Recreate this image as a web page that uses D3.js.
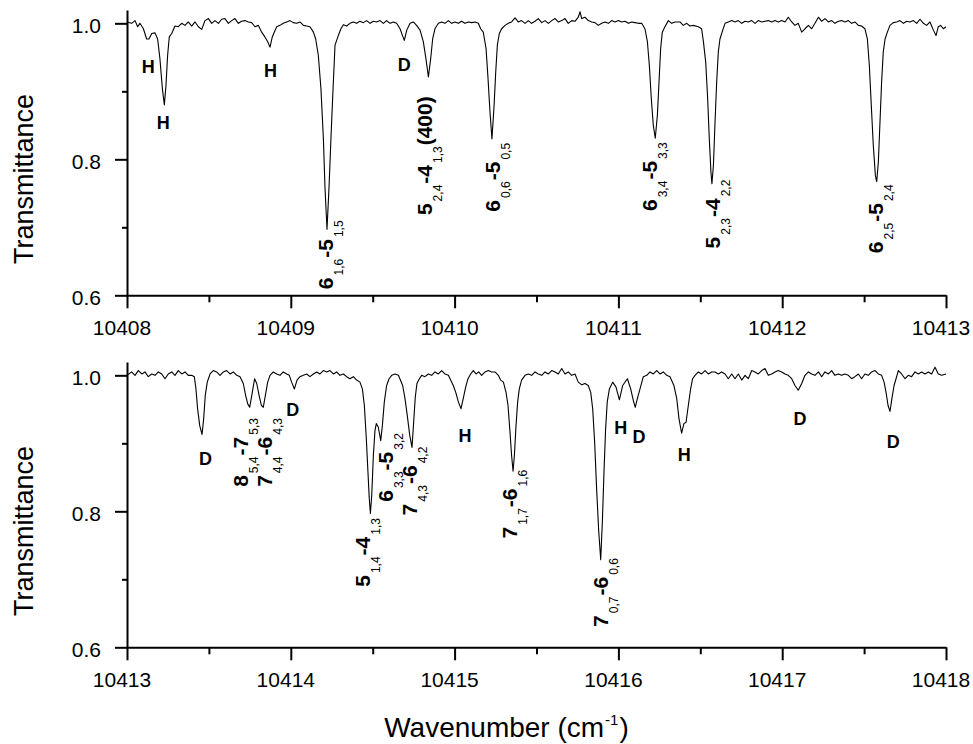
<!DOCTYPE html>
<html><head><meta charset="utf-8">
<script src="https://cdn.jsdelivr.net/npm/d3@7"></script>
<style>
body{margin:0;background:#fff}
svg{display:block}
text{font-family:"Liberation Sans",Arial,Helvetica,sans-serif;fill:#000}
</style>
</head><body><svg id="chart" width="973" height="744"></svg>
<script>
// ---- data (wavenumber cm-1, transmittance) ----
const topSpectrum = [[10408.000,1.002],[10408.028,1.000],[10408.049,1.004],[10408.065,0.995],[10408.079,1.000],[10408.100,0.992],[10408.120,0.977],[10408.134,0.977],[10408.151,0.985],[10408.171,0.986],[10408.187,0.977],[10408.201,0.948],[10408.216,0.904],[10408.228,0.880],[10408.238,0.909],[10408.248,0.953],[10408.258,0.980],[10408.273,0.985],[10408.293,0.996],[10408.313,0.995],[10408.334,1.000],[10408.354,0.997],[10408.374,1.002],[10408.395,0.996],[10408.415,1.002],[10408.436,0.995],[10408.456,0.991],[10408.476,1.004],[10408.497,1.007],[10408.517,1.000],[10408.537,1.004],[10408.558,1.000],[10408.578,1.006],[10408.598,1.007],[10408.619,1.000],[10408.639,1.004],[10408.659,1.007],[10408.680,1.000],[10408.700,1.003],[10408.720,1.004],[10408.741,1.002],[10408.761,1.001],[10408.781,0.995],[10408.802,0.997],[10408.822,0.987],[10408.842,0.980],[10408.859,0.973],[10408.873,0.965],[10408.887,0.980],[10408.899,0.987],[10408.914,0.995],[10408.934,0.997],[10408.954,1.000],[10408.975,1.002],[10408.995,1.004],[10409.015,1.001],[10409.036,1.000],[10409.056,1.002],[10409.077,0.997],[10409.097,0.996],[10409.117,0.995],[10409.138,0.987],[10409.152,0.977],[10409.168,0.953],[10409.184,0.904],[10409.199,0.830],[10409.209,0.757],[10409.221,0.697],[10409.233,0.757],[10409.245,0.830],[10409.258,0.904],[10409.270,0.968],[10409.290,0.982],[10409.306,0.992],[10409.321,0.998],[10409.341,0.996],[10409.361,1.000],[10409.382,1.002],[10409.402,1.000],[10409.422,1.003],[10409.443,1.001],[10409.463,1.004],[10409.484,1.000],[10409.504,1.003],[10409.524,1.002],[10409.545,1.004],[10409.565,1.000],[10409.585,1.004],[10409.606,1.000],[10409.626,1.002],[10409.646,1.000],[10409.667,0.992],[10409.682,0.982],[10409.693,0.975],[10409.708,0.990],[10409.728,1.000],[10409.748,1.002],[10409.768,0.997],[10409.789,0.990],[10409.809,0.973],[10409.825,0.948],[10409.840,0.921],[10409.854,0.948],[10409.866,0.977],[10409.880,0.992],[10409.901,1.000],[10409.921,1.002],[10409.941,1.000],[10409.962,1.004],[10409.982,1.000],[10410.002,1.002],[10410.023,1.000],[10410.043,1.003],[10410.063,1.000],[10410.084,1.002],[10410.104,1.001],[10410.125,1.002],[10410.145,1.000],[10410.159,0.992],[10410.175,0.987],[10410.192,0.963],[10410.204,0.919],[10410.216,0.870],[10410.228,0.830],[10410.241,0.879],[10410.251,0.928],[10410.261,0.968],[10410.273,0.985],[10410.287,0.992],[10410.308,0.997],[10410.328,1.000],[10410.348,1.002],[10410.369,1.008],[10410.389,1.002],[10410.409,1.004],[10410.430,1.000],[10410.450,1.004],[10410.470,1.000],[10410.491,1.003],[10410.511,1.007],[10410.532,1.001],[10410.552,1.004],[10410.572,1.000],[10410.593,1.004],[10410.613,1.007],[10410.633,1.002],[10410.654,1.004],[10410.674,1.007],[10410.694,1.000],[10410.715,1.004],[10410.735,1.003],[10410.755,1.009],[10410.766,1.017],[10410.776,1.007],[10410.796,1.009],[10410.816,1.004],[10410.837,1.002],[10410.857,1.001],[10410.877,0.997],[10410.898,1.000],[10410.918,1.002],[10410.939,1.000],[10410.959,1.004],[10410.979,1.002],[10411.000,1.004],[10411.020,1.002],[10411.040,1.003],[10411.061,1.000],[10411.081,1.002],[10411.101,1.001],[10411.122,1.000],[10411.142,1.000],[10411.162,0.992],[10411.177,0.973],[10411.189,0.938],[10411.201,0.889],[10411.213,0.850],[10411.225,0.831],[10411.238,0.865],[10411.248,0.914],[10411.258,0.963],[10411.268,0.987],[10411.284,0.995],[10411.305,1.004],[10411.325,1.000],[10411.346,1.002],[10411.376,1.002],[10411.396,0.997],[10411.417,1.000],[10411.437,0.996],[10411.457,0.997],[10411.488,0.995],[10411.508,0.992],[10411.519,0.973],[10411.533,0.943],[10411.545,0.889],[10411.555,0.830],[10411.565,0.781],[10411.571,0.764],[10411.580,0.791],[10411.590,0.855],[10411.600,0.914],[10411.610,0.958],[10411.620,0.977],[10411.637,0.990],[10411.651,1.000],[10411.671,1.002],[10411.692,1.004],[10411.712,1.002],[10411.732,1.004],[10411.753,1.000],[10411.773,1.003],[10411.793,1.002],[10411.814,1.004],[10411.834,1.000],[10411.854,1.004],[10411.875,1.002],[10411.895,1.003],[10411.915,1.004],[10411.936,1.002],[10411.956,1.004],[10411.976,1.002],[10411.997,1.004],[10412.017,1.002],[10412.037,1.009],[10412.058,1.002],[10412.078,0.997],[10412.098,1.000],[10412.119,0.987],[10412.139,0.992],[10412.160,0.997],[10412.180,0.992],[10412.200,1.000],[10412.221,1.009],[10412.241,1.003],[10412.261,1.007],[10412.282,1.002],[10412.302,1.004],[10412.322,1.000],[10412.343,1.003],[10412.363,1.004],[10412.383,1.002],[10412.404,1.004],[10412.424,1.000],[10412.444,1.002],[10412.465,0.997],[10412.485,0.996],[10412.505,0.992],[10412.520,0.977],[10412.532,0.938],[10412.544,0.879],[10412.556,0.821],[10412.569,0.776],[10412.577,0.767],[10412.587,0.796],[10412.597,0.855],[10412.607,0.914],[10412.617,0.958],[10412.628,0.977],[10412.642,0.987],[10412.658,0.997],[10412.678,1.001],[10412.699,1.002],[10412.719,1.004],[10412.740,1.000],[10412.760,1.003],[10412.780,1.002],[10412.801,1.004],[10412.821,1.000],[10412.841,1.006],[10412.862,1.000],[10412.882,0.997],[10412.902,1.002],[10412.923,0.990],[10412.939,0.982],[10412.953,0.995],[10412.967,0.997],[10412.984,0.992],[10413.000,0.995]];

const bottomSpectrum = [[10413.000,1.000],[10413.028,1.005],[10413.049,1.000],[10413.069,1.007],[10413.090,1.002],[10413.110,1.005],[10413.130,0.998],[10413.151,1.002],[10413.171,1.000],[10413.191,1.005],[10413.212,1.002],[10413.232,0.995],[10413.252,1.002],[10413.273,1.005],[10413.293,1.000],[10413.313,1.007],[10413.334,1.002],[10413.354,1.005],[10413.374,1.000],[10413.395,1.000],[10413.411,0.998],[10413.421,0.980],[10413.431,0.951],[10413.444,0.926],[10413.458,0.913],[10413.468,0.936],[10413.478,0.971],[10413.490,0.990],[10413.507,1.002],[10413.527,1.007],[10413.547,1.005],[10413.568,1.000],[10413.588,1.005],[10413.608,1.007],[10413.629,1.002],[10413.649,1.005],[10413.670,1.000],[10413.690,0.998],[10413.710,0.988],[10413.724,0.971],[10413.737,0.958],[10413.749,0.953],[10413.765,0.975],[10413.779,0.995],[10413.792,0.988],[10413.806,0.971],[10413.820,0.956],[10413.832,0.953],[10413.845,0.971],[10413.859,0.990],[10413.873,1.000],[10413.893,1.005],[10413.914,1.002],[10413.934,1.000],[10413.954,1.005],[10413.975,1.002],[10413.991,1.000],[10414.005,0.990],[10414.022,0.980],[10414.038,0.993],[10414.056,0.998],[10414.077,1.000],[10414.097,1.002],[10414.117,0.998],[10414.138,1.002],[10414.158,1.005],[10414.178,1.002],[10414.199,1.007],[10414.219,1.005],[10414.239,1.007],[10414.260,1.002],[10414.280,1.005],[10414.300,1.000],[10414.321,1.002],[10414.341,0.998],[10414.361,0.995],[10414.382,0.998],[10414.402,0.993],[10414.422,0.990],[10414.437,0.980],[10414.449,0.956],[10414.461,0.907],[10414.471,0.858],[10414.479,0.819],[10414.486,0.797],[10414.494,0.823],[10414.504,0.882],[10414.514,0.919],[10414.522,0.929],[10414.534,0.924],[10414.549,0.904],[10414.559,0.926],[10414.571,0.961],[10414.585,0.985],[10414.600,0.995],[10414.616,1.000],[10414.636,1.002],[10414.657,1.000],[10414.683,0.985],[10414.697,0.966],[10414.711,0.941],[10414.726,0.912],[10414.740,0.894],[10414.750,0.931],[10414.760,0.968],[10414.770,0.988],[10414.785,0.995],[10414.799,1.000],[10414.819,0.998],[10414.840,1.002],[10414.860,1.000],[10414.880,1.005],[10414.901,1.002],[10414.921,1.007],[10414.941,1.002],[10414.962,1.000],[10414.976,0.993],[10414.992,0.985],[10415.007,0.975],[10415.023,0.961],[10415.039,0.951],[10415.053,0.966],[10415.068,0.983],[10415.082,0.995],[10415.098,1.002],[10415.114,1.007],[10415.131,1.002],[10415.147,1.005],[10415.165,1.000],[10415.186,1.005],[10415.206,1.007],[10415.226,1.005],[10415.247,1.005],[10415.267,1.000],[10415.281,0.993],[10415.298,0.990],[10415.314,0.975],[10415.326,0.956],[10415.338,0.917],[10415.348,0.882],[10415.357,0.859],[10415.365,0.882],[10415.375,0.926],[10415.385,0.961],[10415.395,0.980],[10415.409,0.993],[10415.430,1.000],[10415.450,1.002],[10415.470,1.000],[10415.491,1.005],[10415.511,1.002],[10415.532,1.000],[10415.552,1.005],[10415.572,1.002],[10415.593,1.007],[10415.613,1.005],[10415.633,1.002],[10415.654,1.010],[10415.674,1.002],[10415.694,1.005],[10415.715,1.000],[10415.735,1.002],[10415.755,0.990],[10415.776,0.986],[10415.796,0.988],[10415.816,0.985],[10415.831,0.975],[10415.843,0.951],[10415.855,0.902],[10415.867,0.833],[10415.880,0.770],[10415.892,0.729],[10415.902,0.784],[10415.912,0.858],[10415.922,0.922],[10415.932,0.961],[10415.945,0.980],[10415.965,0.990],[10415.985,0.983],[10416.006,0.964],[10416.026,0.985],[10416.055,0.995],[10416.075,0.980],[10416.091,0.963],[10416.103,0.953],[10416.116,0.966],[10416.132,0.980],[10416.152,0.998],[10416.173,1.000],[10416.193,1.005],[10416.213,1.002],[10416.234,1.007],[10416.254,1.002],[10416.274,1.005],[10416.295,1.000],[10416.315,0.998],[10416.339,0.985],[10416.356,0.966],[10416.370,0.936],[10416.386,0.915],[10416.400,0.929],[10416.413,0.931],[10416.427,0.956],[10416.441,0.980],[10416.453,0.995],[10416.468,1.000],[10416.488,1.005],[10416.508,1.002],[10416.529,1.007],[10416.549,1.002],[10416.569,1.005],[10416.590,1.005],[10416.610,1.002],[10416.630,1.005],[10416.651,1.002],[10416.671,0.995],[10416.692,1.002],[10416.712,0.995],[10416.732,1.002],[10416.753,0.993],[10416.773,1.000],[10416.793,0.995],[10416.814,1.007],[10416.834,1.005],[10416.854,1.002],[10416.875,1.007],[10416.895,1.010],[10416.915,1.000],[10416.936,1.002],[10416.956,1.005],[10416.976,1.007],[10416.997,1.005],[10417.017,1.002],[10417.037,1.000],[10417.058,0.995],[10417.078,0.985],[10417.098,0.978],[10417.119,0.988],[10417.139,1.000],[10417.160,1.005],[10417.180,1.002],[10417.200,1.000],[10417.221,1.005],[10417.241,0.998],[10417.261,1.005],[10417.282,1.002],[10417.302,1.007],[10417.322,1.000],[10417.343,1.002],[10417.363,1.000],[10417.383,1.002],[10417.404,1.000],[10417.424,0.995],[10417.444,0.998],[10417.465,1.002],[10417.485,0.995],[10417.505,1.002],[10417.526,1.000],[10417.546,1.005],[10417.567,1.007],[10417.587,1.002],[10417.607,1.000],[10417.622,0.990],[10417.634,0.975],[10417.646,0.956],[10417.658,0.947],[10417.670,0.966],[10417.683,0.985],[10417.695,0.995],[10417.709,1.007],[10417.729,1.002],[10417.750,0.995],[10417.770,1.000],[10417.790,0.998],[10417.811,1.005],[10417.831,1.002],[10417.851,1.005],[10417.872,1.002],[10417.892,1.005],[10417.912,1.002],[10417.933,1.012],[10417.953,1.002],[10417.974,1.000],[10418.000,1.002]];

const topDomain = [10408, 10413];
const bottomDomain = [10413, 10418];
const topXTicks = [10408, 10409, 10410, 10411, 10412, 10413];
const bottomXTicks = [10413, 10414, 10415, 10416, 10417, 10418];
const topXMinor = [10408.5, 10409.5, 10410.5, 10411.5, 10412.5];
const bottomXMinor = [10413.5, 10414.5, 10415.5, 10416.5, 10417.5];
const yMajorTicks = [0.6, 0.8, 1.0];
const yMinorTicks = [0.7, 0.9];
const yLabel = "Transmittance";
const xLabel = "Wavenumber (cm";
const xLabelSup = "-1";

// isotope letters: [text, wavenumber, transmittance]
const topLetters = [["H",10408.130,0.937],["H",10408.222,0.854],["H",10408.876,0.930],["D",10409.693,0.940]];
const bottomLetters = [["D",10413.480,0.877],["D",10414.012,0.949],["H",10415.063,0.911],["H",10416.014,0.923],["D",10416.126,0.910],["H",10416.402,0.883],["D",10417.109,0.937],["D",10417.678,0.903]];

// rotational assignments: [parts (main, sub, main, sub, ...), wavenumber, transmittance]
const topAssignments = [
  [["6","1,6","-5","1,5"],10409.260,0.609],
  [["5","2,4","-4","1,3","(400)"],10409.860,0.718],
  [["6","0,6","-5","0,5"],10410.277,0.723],
  [["6","3,4","-5","3,3"],10411.233,0.724],
  [["5","2,3","-4","2,2"],10411.620,0.669],
  [["6","2,5","-5","2,4"],10412.617,0.662]
];
const bottomAssignments = [
  [["8","5,4","-7","5,3"],10413.741,0.836],
  [["7","4,4","-6","4,3"],10413.883,0.836],
  [["5","1,4","-4","1,3"],10414.483,0.689],
  [["6","3,3","-5","3,2"],10414.626,0.814],
  [["7","4,3","-6","4,2"],10414.769,0.794],
  [["7","1,7","-6","1,6"],10415.379,0.760],
  [["7","0,7","-6","0,6"],10415.939,0.630]
];

// ---- drawing ----
const svg = d3.select("#chart");
svg.append("rect").attr("width",973).attr("height",744).attr("fill","#fff");
const FONT = '"Liberation Sans",Arial,Helvetica,sans-serif';
const plotLeft = 127, plotRight = 946;

function styleAxis(g){
  g.attr("font-family", FONT).attr("font-size", 21);
  g.select(".domain").attr("stroke","#000").attr("stroke-width",2);
  g.selectAll(".tick line").attr("stroke","#000").attr("stroke-width",2);
  g.selectAll(".tick text").attr("fill","#000");
}

function drawPanel(data, domain, yRange, xTicks, xMinor, letters, assigns){
  const x = d3.scaleLinear().domain(domain).range([plotLeft, plotRight]);
  const y = d3.scaleLinear().domain([0.6, 1.0196]).range(yRange);
  const g = svg.append("g");

  // y axis
  const ya = g.append("g").attr("transform",`translate(${plotLeft},0)`)
    .call(d3.axisLeft(y).tickValues(yMajorTicks).tickSize(12).tickSizeOuter(0).tickPadding(14).tickFormat(d3.format(".1f")));
  styleAxis(ya);
  ya.selectAll(".tick text").attr("dy","0.45em");
  const ym = g.append("g").attr("transform",`translate(${plotLeft},0)`)
    .call(d3.axisLeft(y).tickValues(yMinorTicks).tickSize(5).tickFormat(""));
  ym.select(".domain").remove();
  ym.selectAll(".tick line").attr("stroke","#000").attr("stroke-width",2);

  // x axis
  const xa = g.append("g").attr("transform",`translate(0,${y(0.6)})`)
    .call(d3.axisBottom(x).tickValues(xTicks).tickSize(13).tickSizeOuter(0).tickPadding(12).tickFormat(d3.format("d")));
  styleAxis(xa);
  xa.selectAll(".tick text").attr("dx","-5.5");
  const xm = g.append("g").attr("transform",`translate(0,${y(0.6)})`)
    .call(d3.axisBottom(x).tickValues(xMinor).tickSize(7).tickFormat(""));
  xm.select(".domain").remove();
  xm.selectAll(".tick line").attr("stroke","#000").attr("stroke-width",2);

  // spectrum
  const line = d3.line().x(d=>x(d[0])).y(d=>y(d[1]));
  g.append("path").datum(data).attr("d",line)
    .attr("fill","none").attr("stroke","#000").attr("stroke-width",1.1)
    .attr("stroke-linejoin","round");

  // letters
  g.selectAll("text.letter").data(letters).enter().append("text")
    .attr("class","letter")
    .attr("x",d=>x(d[1])).attr("y",d=>y(d[2]))
    .attr("dy","0.36em").attr("text-anchor","middle")
    .attr("font-size",18).attr("font-weight","bold")
    .text(d=>d[0]);

  // assignments (rotated)
  assigns.forEach(a=>{
    const t = g.append("text")
      .attr("transform",`translate(${x(a[1])},${y(a[2])}) rotate(-90)`)
      .attr("text-anchor","start");
    a[0].forEach((p,i)=>{
      const isSub = i % 2 === 1;
      const s = t.append("tspan").text(p);
      if(isSub){
        s.attr("font-size",12).attr("font-weight","normal").attr("dy",10).attr("dx",2);
      } else {
        s.attr("font-size",21).attr("font-weight","bold");
        if(i>0) s.attr("dy",-10).attr("dx",1);
      }
    });
  });

  // y label
  g.append("text")
    .attr("transform",`translate(33,${y(0.771)}) rotate(-90)`)
    .attr("text-anchor","middle").attr("font-size",27)
    .text(yLabel);
  return {x,y};
}

drawPanel(topSpectrum, topDomain, [295.3, 10], topXTicks, topXMinor, topLetters, topAssignments);
const bp = drawPanel(bottomSpectrum, bottomDomain, [647.3, 362], bottomXTicks, bottomXMinor, bottomLetters, bottomAssignments);

// x label
const xt = svg.append("text").attr("x", 506.5).attr("y", 736.5)
  .attr("text-anchor","middle").attr("font-size",28);
xt.append("tspan").text(xLabel);
xt.append("tspan").text(xLabelSup).attr("font-size",15).attr("dy",-12).attr("dx",1);
xt.append("tspan").text(")").attr("dy",12).attr("dx",1);
</script>
</body></html>
